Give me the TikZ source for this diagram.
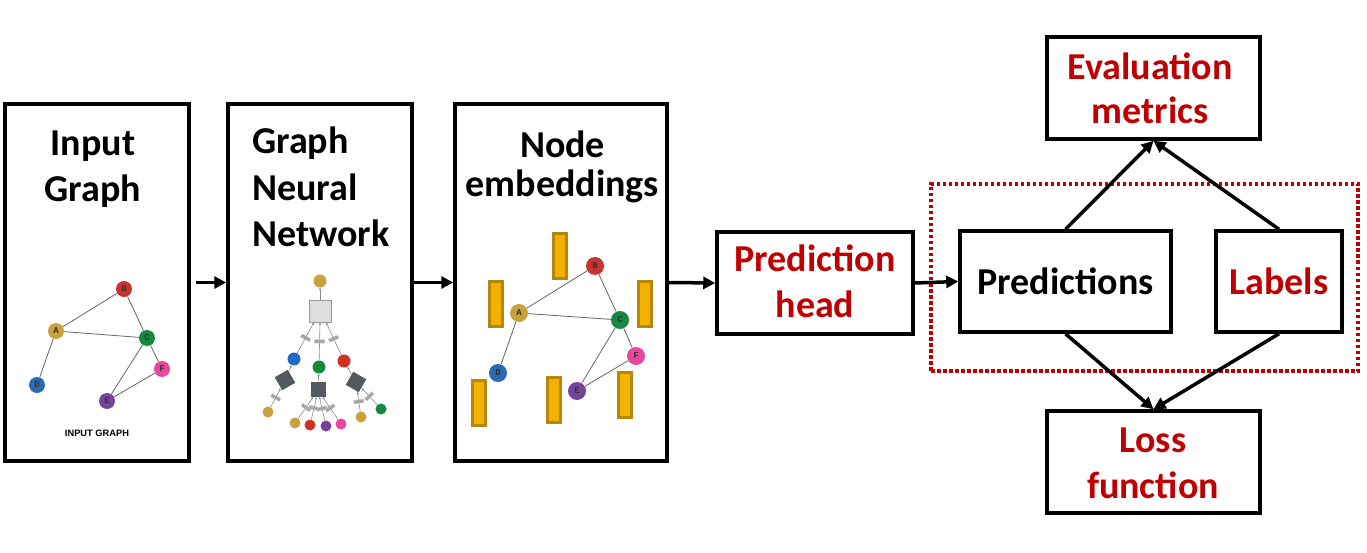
\documentclass[tikz,border=0pt]{standalone}
\usepackage{fontspec}
\setmainfont{Carlito}
\newfontfamily\helvf{Liberation Sans}
\newfontfamily\monof{Liberation Mono}
\usetikzlibrary{arrows.meta}
\definecolor{dred}{HTML}{C00000}
\definecolor{cA}{HTML}{C9A13D}
\definecolor{cB}{HTML}{C93330}
\definecolor{cC}{HTML}{14893F}
\definecolor{cD}{HTML}{2A6AB3}
\definecolor{cE}{HTML}{74459B}
\definecolor{cF}{HTML}{E8479D}
\definecolor{gblue}{HTML}{1F6BC4}
\definecolor{gred}{HTML}{CF3220}
\definecolor{embfill}{HTML}{F2B200}
\definecolor{embdraw}{HTML}{B8860B}
\definecolor{dsq}{HTML}{555A60}
\begin{document}
\begin{tikzpicture}[x=1pt,y=-1pt,
  box/.style={draw, line width=3.5pt, inner sep=0pt, fill=white},
  dotbox/.style={draw=dred, line width=3.5pt, dash pattern=on 3.5pt off 2.5pt, inner sep=0pt},
  ttl/.style={font=\bfseries\fontsize{38}{44}\selectfont, inner sep=0pt, anchor=base},
  rttl/.style={ttl, text=dred},
  arr/.style={line width=3.5pt, -{Triangle[length=12pt,width=12pt]}},
  gn/.style={circle, inner sep=0pt, minimum size=16pt, font=\monof\bfseries\fontsize{9}{9}\selectfont, text=black!80},
  en/.style={gn, minimum size=18pt},
  ge/.style={draw=black!60, line width=0.8pt},
  emb/.style={draw=embdraw, fill=embfill, line width=3pt, inner sep=0pt, minimum width=13pt, minimum height=45pt},
  tc/.style={circle, inner sep=0pt, minimum size=13pt},
  lc/.style={circle, inner sep=0pt, minimum size=11pt},
  dsqr/.style={fill=dsq, inner sep=0pt, minimum size=15pt},
  te/.style={draw=black!45, line width=0.6pt, -{Latex[length=2.5pt,width=2.5pt]}},
  mr/.style={fill=black!35, draw=black!20, line width=0.3pt, inner sep=0pt, minimum width=3.5pt, minimum height=10pt, sloped}
]
\useasboundingbox (0,0) rectangle (1367,553);

% dotted group
\node[dotbox, minimum width=427pt, minimum height=187pt] (grp) at (1144.5,277.5) {};

% main boxes
\node[box, minimum width=184pt, minimum height=357pt] (ig) at (97,282.5) {};
\node[box, minimum width=184pt, minimum height=357pt] (gnn) at (320,282.5) {};
\node[box, minimum width=212pt, minimum height=357pt] (ne) at (561,282.5) {};
\node[box, minimum width=196pt, minimum height=102pt] (ph) at (815,283) {};
\node[box, minimum width=211pt, minimum height=101pt] (pr) at (1065.5,281.5) {};
\node[box, minimum width=126pt, minimum height=101pt] (lb) at (1279,281.5) {};
\node[box, minimum width=213pt, minimum height=102pt] (ev) at (1153.5,88) {};
\node[box, minimum width=213pt, minimum height=102pt] (lf) at (1153.5,462) {};

% titles
\node[ttl] (t1a) at (93,156) {Input};
\node[ttl] (t1b) at (93,202) {Graph};
\node[ttl, anchor=base west] (t2a) at (252,154) {Graph};
\node[ttl, anchor=base west] (t2b) at (252,201) {Neural};
\node[ttl, anchor=base west] (t2c) at (252,247) {Network};
\node[ttl] (t3a) at (562.5,158) {Node};
\node[ttl] (t3b) at (562.5,197) {embeddings};
\node[rttl] (t4a) at (815,272) {Prediction};
\node[rttl] (t4b) at (815,317) {head};
\node[ttl] (t5) at (1065.7,294) {Predictions};
\node[rttl] (t6) at (1279,294) {Labels};
\node[rttl] (t7a) at (1150,80) {Evaluation};
\node[rttl] (t7b) at (1150,124) {metrics};
\node[rttl] (t8a) at (1153,452) {Loss};
\node[rttl] (t8b) at (1153,498) {function};

% main arrows
\draw[arr, shorten <=5pt] (ig.east) -- (gnn.west);
\draw[arr] (gnn.east) -- (ne.west);
\draw[arr] (ne.east) -- (ph.west);
\draw[arr] (ph.east) -- (pr.west);
\draw[arr] (pr.north) -- (ev.south);
\draw[arr] (lb.north) -- (ev.south);
\draw[arr] (pr.south) -- (lf.north);
\draw[arr] (lb.south) -- (lf.north);

% input graph
\node[gn, fill=cB] (ib) at (124,289) {B};
\node[gn, fill=cA] (ia) at (56,331) {A};
\node[gn, fill=cC] (ic) at (147,338) {C};
\node[gn, fill=cF] (if) at (162,369) {F};
\node[gn, fill=cD] (id) at (37,385) {D};
\node[gn, fill=cE] (ie) at (107,401) {E};
\draw[ge] (ia) -- (ib);
\draw[ge] (ia) -- (ic);
\draw[ge] (ib) -- (ic);
\draw[ge] (ia) -- (id);
\draw[ge] (ic) -- (ie);
\draw[ge] (ic) -- (if);
\draw[ge] (ie) -- (if);
\node[font=\helvf\bfseries\fontsize{9.3}{10}\selectfont, inner sep=0pt] (igl) at (97,433) {INPUT GRAPH};

% GNN tree
\node[tc, fill=cA] (t0) at (320,281) {};
\node[draw=black!40, fill=black!13, line width=0.8pt, inner sep=0pt, minimum size=22pt] (sq0) at (320,311) {};
\node[tc, fill=gblue] (b1) at (294,359) {};
\node[tc, fill=cC] (g1) at (319,367) {};
\node[tc, fill=gred] (r1) at (344,361) {};
\node[dsqr, rotate=30] (ds1) at (285,380) {};
\node[dsqr] (ds2) at (318,389) {};
\node[dsqr, rotate=-30] (ds3) at (356,382) {};
\node[lc, fill=cA] (l1) at (268,412) {};
\node[lc, fill=cA] (m1) at (295,423) {};
\node[lc, fill=gred] (m2) at (310,425) {};
\node[lc, fill=cE] (m3) at (326,426) {};
\node[lc, fill=cF] (m4) at (341,424) {};
\node[lc, fill=cA] (n1) at (361,417) {};
\node[lc, fill=cC] (n2) at (381,409) {};
\draw[te] (sq0) -- (t0);
\draw[te] (b1) -- node[mr]{} (sq0.-118);
\draw[te] (g1) -- node[mr]{} (sq0.south);
\draw[te] (r1) -- node[mr]{} (sq0.-62);
\draw[te] (ds1) -- (b1);
\draw[te] (ds2) -- (g1);
\draw[te] (ds3) -- (r1);
\draw[te] (l1) -- node[mr]{} (ds1);
\draw[te] (m1) -- node[mr]{} (ds2.-120);
\draw[te] (m2) -- node[mr]{} (ds2.-100);
\draw[te] (m3) -- node[mr]{} (ds2.-80);
\draw[te] (m4) -- node[mr]{} (ds2.-60);
\draw[te] (n1) -- node[mr]{} (ds3);
\draw[te] (n2) -- node[mr]{} (ds3);

% node embeddings
\node[emb] (e1) at (560,256) {};
\node[emb] (e2) at (495.5,304) {};
\node[emb] (e3) at (644.5,304) {};
\node[emb] (e4) at (478.5,403) {};
\node[emb] (e5) at (553.5,400) {};
\node[emb] (e6) at (625,395) {};
\node[en, fill=cB] (eb) at (595,266) {B};
\node[en, fill=cA] (ea) at (519,313) {A};
\node[en, fill=cC] (ec) at (620,320) {C};
\node[en, fill=cF] (ef) at (636,356) {F};
\node[en, fill=cD] (ed) at (498,373) {D};
\node[en, fill=cE] (ee) at (577,391) {E};
\draw[ge] (ea) -- (eb);
\draw[ge] (ea) -- (ec);
\draw[ge] (eb) -- (ec);
\draw[ge] (ea) -- (ed);
\draw[ge] (ec) -- (ee);
\draw[ge] (ec) -- (ef);
\draw[ge] (ee) -- (ef);
\end{tikzpicture}
\end{document}
